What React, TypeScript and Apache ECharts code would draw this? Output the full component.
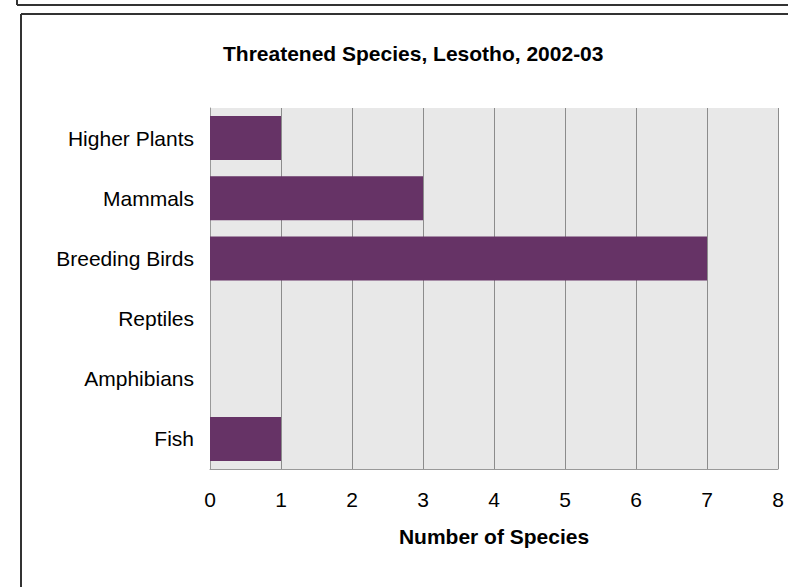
import React, { useEffect, useRef } from "react";
import * as echarts from "echarts";

const categories = ["Higher Plants", "Mammals", "Breeding Birds", "Reptiles", "Amphibians", "Fish"];
const speciesCounts = [1, 3, 7, 0, 0, 1];
const titleText = "Threatened Species, Lesotho, 2002-03";
const xAxisName = "Number of Species";

const FONT = "'Liberation Sans', Arial, sans-serif";

export default function App() {
  const ref = useRef<HTMLDivElement>(null);
  useEffect(() => {
    if (!ref.current) return;
    const chart = echarts.init(ref.current, undefined, { renderer: "svg" });
    const border = { stroke: "#333", lineWidth: 2 };
    chart.setOption({
      animation: false,
      backgroundColor: "#ffffff",
      textStyle: { fontFamily: FONT },
      title: {
        text: titleText,
        left: 223,
        top: 43,
        padding: 0,
        textStyle: { fontFamily: FONT, fontSize: 21, fontWeight: "bold", color: "#000" },
      },
      graphic: [
        { type: "line", shape: { x1: 17, y1: 5, x2: 788, y2: 5 }, style: border, silent: true },
        { type: "line", shape: { x1: 17, y1: 0, x2: 17, y2: 5 }, style: border, silent: true },
        { type: "line", shape: { x1: 21, y1: 14, x2: 788, y2: 14 }, style: border, silent: true },
        { type: "line", shape: { x1: 21, y1: 14, x2: 21, y2: 587 }, style: border, silent: true },
      ],
      grid: {
        left: 210,
        top: 108,
        right: 10,
        bottom: 118,
        show: true,
        backgroundColor: "#E8E8E8",
        borderWidth: 0,
      },
      xAxis: {
        type: "value",
        min: 0,
        max: 8,
        interval: 1,
        name: xAxisName,
        nameLocation: "middle",
        nameGap: 57,
        nameTextStyle: { fontFamily: FONT, fontSize: 21, fontWeight: "bold", color: "#000" },
        axisLine: { show: true, lineStyle: { color: "#999", width: 1 } },
        axisTick: { show: false },
        axisLabel: { fontFamily: FONT, fontSize: 21, color: "#000", margin: 20 },
        splitLine: { show: true, lineStyle: { color: "#8c8c8c", width: 1 } },
      },
      yAxis: {
        type: "category",
        data: categories,
        inverse: true,
        axisLine: { show: true, lineStyle: { color: "#999", width: 1 } },
        axisTick: { show: false },
        axisLabel: { fontFamily: FONT, fontSize: 21, color: "#000", margin: 16 },
        splitLine: { show: false },
      },
      series: [
        {
          type: "bar",
          data: speciesCounts,
          barCategoryGap: "27%",
          itemStyle: { color: "#663366" },
        },
      ],
    });
    return () => chart.dispose();
  }, []);
  return (
    <div style={{ position: "fixed", left: 0, top: 0, width: 788, height: 587, overflow: "hidden", background: "#fff" }}>
      <div ref={ref} style={{ width: 788, height: 587 }} />
    </div>
  );
}
